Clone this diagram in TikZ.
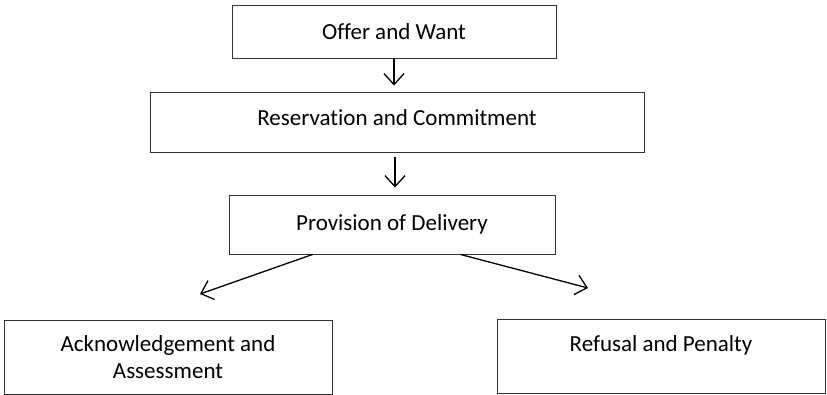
\documentclass[tikz,border=0pt]{standalone}
\usepackage{fontspec}
\setmainfont{Carlito}[Ligatures=NoCommon]
\usetikzlibrary{arrows.meta}
\begin{document}
\begin{tikzpicture}[x=1pt,y=-1pt,
    stage/.style={draw=black!80,line width=0.9pt,minimum height=#1,inner sep=0pt,
        align=center,font=\fontsize{23}{27}\selectfont},
    flow/.style={line width=1.3pt,-{Straight Barb[length=11pt,width=20pt,line width=1.3pt]}}]
    \useasboundingbox (0,0) rectangle (827,394);
    \node[stage=53pt,minimum width=324pt] (offer) at (394,31.5) {Offer and Want};
    \node[stage=60pt,minimum width=494pt,text height=17pt,text depth=10pt] (reserve) at (397,122) {Reservation and Commitment};
    \node[stage=59pt,minimum width=326pt] (provide) at (392,224.5) {Provision of Delivery};
    \node[stage=74pt,minimum width=328pt] (ack) at (168,357) {Acknowledgement and\\Assessment};
    \node[stage=74pt,minimum width=328pt,text depth=26pt,text height=17pt] (refuse) at (661,356) {Refusal and Penalty};
    \coordinate (ackend) at (200,294);
    \coordinate (refend) at (588,288);
    \draw[flow,shorten >=6pt] (offer.south) -- (offer.south |- reserve.north);
    \draw[flow,shorten <=5pt,shorten >=7pt] ([xshift=-2pt]reserve.south) -- ([xshift=-2pt]reserve.south |- provide.north);
    \draw[flow] ([xshift=84pt]provide.south west) -- (ackend);
    \draw[flow] ([xshift=-95pt]provide.south east) -- (refend);
\end{tikzpicture}
\end{document}
